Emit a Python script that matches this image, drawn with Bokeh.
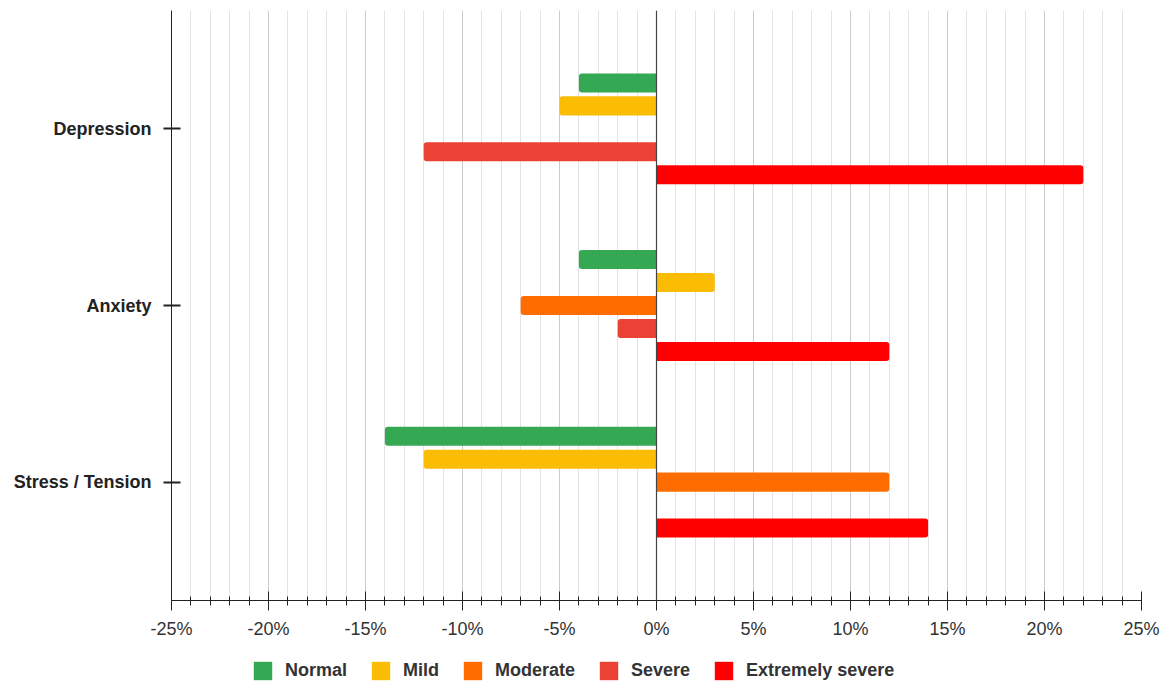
from bokeh.plotting import figure
from bokeh.layouts import column
from bokeh.models import (ColumnDataSource, FixedTicker, SingleIntervalTicker,
                          PrintfTickFormatter, Legend, LegendItem, Span)
from bokeh.embed import file_html
from bokeh.resources import INLINE

# Change in share of respondents per severity level (percentage points)
categories = ["Depression", "Anxiety", "Stress / Tension"]
series = ["Normal", "Mild", "Moderate", "Severe", "Extremely severe"]
normal = [-4, -4, -14]
mild = [-5, 3, -12]
moderate = [0, -7, 12]
severe = [-12, -2, 0]
extremely_severe = [22, 12, 14]
x_ticks = [-25, -20, -15, -10, -5, 0, 5, 10, 15, 20, 25]

values = [normal, mild, moderate, severe, extremely_severe]
colors = ["#34A853", "#FBBC04", "#FF6D01", "#EA4335", "#FF0000"]

FONT = "Liberation Sans"
n_cat = len(categories)
n_ser = len(series)
slot = 0.13          # vertical step between bars of one group
bar_h = 0.108        # bar thickness in y units

p = figure(frame_width=970, frame_height=590,
           x_range=(x_ticks[0], x_ticks[-1]), y_range=(-0.67, n_cat - 1 + 0.67),
           output_backend="svg", toolbar_location=None,
           min_border_left=171, min_border_right=29,
           min_border_top=10, min_border_bottom=45)
p.outline_line_color = None
p.background_fill_color = "white"
p.border_fill_color = "white"

# legend strip below the chart
lf = figure(width=1170, height=41, output_backend="svg", toolbar_location=None,
            x_range=(0, 1), y_range=(0, 1), min_border=0)
lf.axis.visible = False
lf.grid.visible = False
lf.outline_line_color = None

legend_items = []
for j, (name, vals, col) in enumerate(zip(series, values, colors)):
    offset = ((n_ser - 1) / 2 - j) * slot
    neg = dict(y=[], left=[], right=[])
    pos = dict(y=[], left=[], right=[])
    for i, v in enumerate(vals):
        if v == 0:
            continue
        y = (n_cat - 1 - i) + offset
        d = neg if v < 0 else pos
        d["y"].append(y)
        d["left"].append(min(0, v))
        d["right"].append(max(0, v))
    src = ColumnDataSource(neg if neg["y"] else pos)
    # rounded corners only on the outer end of each bar
    if neg["y"]:
        p.hbar(y="y", left="left", right="right", height=bar_h,
               source=ColumnDataSource(neg), fill_color=col,
               line_color=None, border_radius=(3, 0, 0, 3))
    if pos["y"]:
        p.hbar(y="y", left="left", right="right", height=bar_h,
               source=ColumnDataSource(pos), fill_color=col,
               line_color=None, border_radius=(0, 3, 3, 0))
    # hidden twin renderer that only supplies the legend swatch
    r = lf.hbar(y="y", left="left", right="right", height=bar_h, source=src,
                fill_color=col, line_color=None, border_radius=3,
                visible=False)
    legend_items.append(LegendItem(label=name, renderers=[r]))

# zero baseline
p.add_layout(Span(location=0, dimension="height", line_color="#444444",
                  line_width=1.2))

# x axis: major every 5 %, minor every 1 %
xt = SingleIntervalTicker(interval=5, num_minor_ticks=5)
p.xaxis.ticker = xt
p.xaxis.formatter = PrintfTickFormatter(format="%d%%")
p.xaxis.axis_line_color = "#222222"
p.xaxis.major_tick_line_color = "#222222"
p.xaxis.minor_tick_line_color = "#222222"
p.xaxis.major_tick_in = 9
p.xaxis.major_tick_out = 10
p.xaxis.minor_tick_in = 4
p.xaxis.minor_tick_out = 5
p.xaxis.major_label_standoff = 8
p.xaxis.major_label_text_font = FONT
p.xaxis.major_label_text_font_size = "18px"
p.xaxis.major_label_text_color = "#333333"

p.xgrid.ticker = xt
p.xgrid.grid_line_color = "#cccccc"
p.xgrid.minor_grid_line_color = "#e3e3e3"
p.ygrid.grid_line_color = None

# y axis: one tick per category
p.yaxis.ticker = FixedTicker(ticks=list(range(n_cat)))
p.yaxis.major_label_overrides = {n_cat - 1 - i: c for i, c in enumerate(categories)}
p.yaxis.axis_line_color = "#222222"
p.yaxis.major_tick_line_color = "#222222"
p.yaxis.major_tick_line_width = 2
p.yaxis.major_tick_in = 9
p.yaxis.major_tick_out = 8
p.yaxis.minor_tick_line_color = None
p.yaxis.major_label_standoff = 12
p.yaxis.major_label_text_font = FONT
p.yaxis.major_label_text_font_size = "18px"
p.yaxis.major_label_text_font_style = "bold"
p.yaxis.major_label_text_color = "#222222"

legend = Legend(items=legend_items, orientation="horizontal",
                location=(80, 4), border_line_color=None,
                background_fill_alpha=0, padding=0, margin=0,
                spacing=22, label_standoff=11,
                glyph_width=23, glyph_height=23,
                inactive_fill_alpha=0,
                label_text_font=FONT, label_text_font_size="18px",
                label_text_font_style="bold", label_text_color="#333333")
lf.add_layout(legend, "center")

open("out.html", "w").write(file_html(column(p, lf), INLINE))
